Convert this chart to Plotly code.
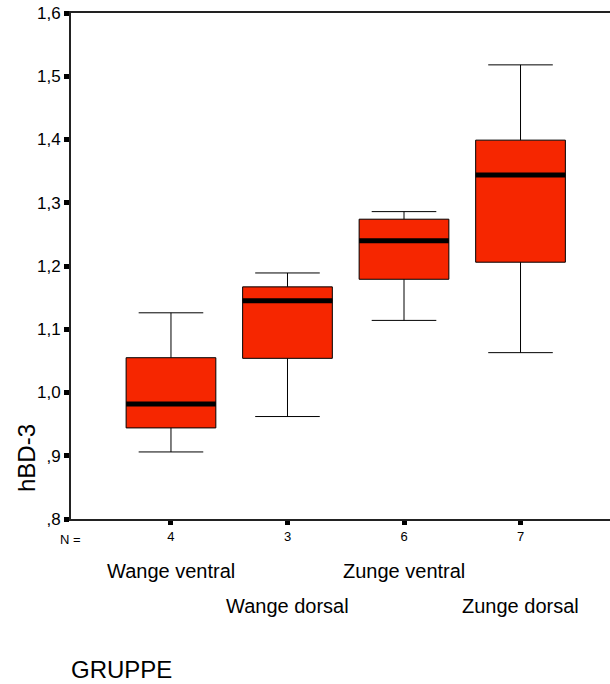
import plotly.graph_objects as go

groups = ["Wange ventral", "Wange dorsal", "Zunge ventral", "Zunge dorsal"]
n_counts = ["4", "3", "6", "7"]
q1 = [0.944, 1.054, 1.179, 1.206]
median = [0.982, 1.145, 1.240, 1.344]
q3 = [1.055, 1.167, 1.274, 1.399]
lower = [0.906, 0.962, 1.114, 1.063]
upper = [1.126, 1.189, 1.286, 1.518]
ytick_vals = [0.8, 0.9, 1.0, 1.1, 1.2, 1.3, 1.4, 1.5, 1.6]
ytick_text = [",8", ",9", "1,0", "1,1", "1,2", "1,3", "1,4", "1,5", "1,6"]

FONT = "Liberation Sans, Arial, sans-serif"
BOX_W = 0.77
FILL = "rgb(246,38,0)"
pos = list(range(len(groups)))

fig = go.Figure()
fig.add_trace(go.Box(
    x=pos, q1=q1, median=median, q3=q3, lowerfence=lower, upperfence=upper,
    width=BOX_W, whiskerwidth=0.72, fillcolor=FILL,
    line=dict(color="black", width=1), boxpoints=False, showlegend=False,
    hoverinfo="skip",
))
# thick median bars
mx, my = [], []
for p, m in zip(pos, median):
    mx += [p - BOX_W / 2, p + BOX_W / 2, None]
    my += [m, m, None]
fig.add_trace(go.Scatter(x=mx, y=my, mode="lines",
                         line=dict(color="black", width=5),
                         showlegend=False, hoverinfo="skip"))

L, T, B = 71, 13, 165
W, H = 610, 684
pw = W - L
ph = H - T - B

fig.update_layout(
    width=W, height=H, margin=dict(l=L, r=0, t=T, b=B),
    plot_bgcolor="white", paper_bgcolor="white",
    font=dict(family=FONT, color="black"),
    xaxis=dict(range=[-0.858, 3.768], tickvals=pos, ticktext=n_counts,
               showline=True, linecolor="#222", linewidth=2, mirror=True,
               ticks="outside", ticklen=4, tickwidth=5, tickcolor="black",
               showgrid=False, zeroline=False,
               tickfont=dict(family=FONT, size=13)),
    yaxis=dict(range=[0.8, 1.6], tickvals=ytick_vals, ticktext=ytick_text,
               showline=True, linecolor="#222", linewidth=2, mirror=False,
               ticks="outside", ticklen=5, tickwidth=5, tickcolor="black",
               showgrid=False, zeroline=False,
               tickfont=dict(family=FONT, size=17)),
)

ann = []
ann.append(dict(text="N =", x=(70 - L) / pw, y=(T + ph - 539) / ph, xref="paper",
                yref="paper", showarrow=False, font=dict(size=13),
                xanchor="center", yanchor="middle"))
for i, g in enumerate(groups):
    yc = 571 if i % 2 == 0 else 606
    ann.append(dict(text=g, x=pos[i], y=(T + ph - yc) / ph, xref="x", yref="paper",
                    showarrow=False, font=dict(size=20),
                    xanchor="center", yanchor="middle"))
ann.append(dict(text="GRUPPE", x=(69 - L) / pw, y=(T + ph - 669) / ph,
                xref="paper", yref="paper", showarrow=False,
                font=dict(size=24), xanchor="left", yanchor="middle"))
ann.append(dict(text="hBD-3", x=(26 - L) / pw, y=(T + ph - 458) / ph,
                xref="paper", yref="paper", showarrow=False, textangle=-90,
                font=dict(size=24), xanchor="center", yanchor="middle"))
fig.update_layout(annotations=ann)

fig.write_html("out.html")
